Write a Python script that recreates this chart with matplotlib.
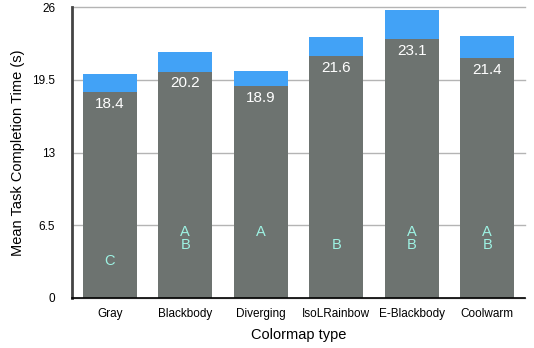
import matplotlib
matplotlib.use("Agg")
import matplotlib.pyplot as plt
import numpy as np

plt.rcParams['font.family'] = ['Liberation Sans', 'DejaVu Sans']

# data
colormaps = ['Gray', 'Blackbody', 'Diverging', 'IsoLRainbow', 'E-Blackbody', 'Coolwarm']
mean_time = [18.4, 20.2, 18.9, 21.6, 23.1, 21.4]
upper_err = [1.6, 1.8, 1.4, 1.7, 2.6, 2.0]
groups = [['C'], ['A', 'B'], ['A'], ['B'], ['A', 'B'], ['A', 'B']]
yticks = [0, 6.5, 13, 19.5, 26]

letter_y = {'A': 5.9, 'B': 4.7, 'C': 3.3}

fig = plt.figure(figsize=(5.34, 3.48), dpi=100)
ax = fig.add_axes([72 / 534, 50 / 348, 453 / 534, 291 / 348])

x = np.arange(len(colormaps))
ax.bar(x, mean_time, width=0.72, color='#6d7370', zorder=2)
ax.bar(x, upper_err, width=0.72, bottom=mean_time, color='#42a2f6', zorder=2)

for xi, v in zip(x, mean_time):
    ax.text(xi, v - 0.4, '%.1f' % v, ha='center', va='top', color='white', fontsize=11, zorder=3)
for xi, g in zip(x, groups):
    for letter in g:
        ax.text(xi, letter_y[letter], letter, ha='center', va='center', color='#9ef3e4', fontsize=10.5, zorder=3)

ax.set_xlim(-0.5, 5.5)
ax.set_ylim(0, 26)
ax.set_yticks(yticks)
ax.set_yticklabels(['0', '6.5', '13', '19.5', '26'])
ax.set_xticks(x)
ax.set_xticklabels(colormaps)
ax.tick_params(axis='both', length=0, labelsize=8.5, colors='black')
ax.tick_params(axis='x', pad=7)
ax.tick_params(axis='y', pad=12)
ax.yaxis.grid(True, color='#b4b4b4', linewidth=1, zorder=0, clip_on=False)
ax.set_axisbelow(True)

for s in ['top', 'right']:
    ax.spines[s].set_visible(False)
ax.spines['left'].set_color('#444444')
ax.spines['left'].set_linewidth(2)
ax.spines['bottom'].set_color('black')
ax.spines['bottom'].set_linewidth(1.2)

ax.set_xlabel('Colormap type', fontsize=10.5, labelpad=6)
ax.set_ylabel('Mean Task Completion Time (s)', fontsize=10.5, labelpad=5)

fig.savefig('out.png', dpi=100)
